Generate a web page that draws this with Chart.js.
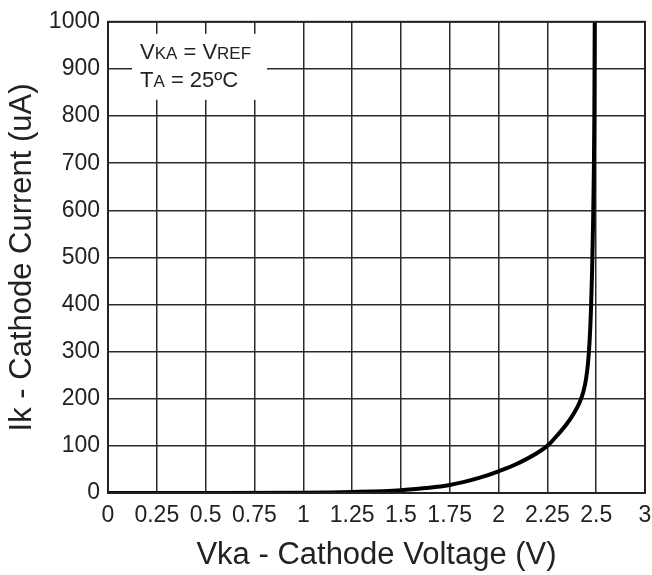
<!DOCTYPE html>
<html>
<head>
<meta charset="utf-8">
<script src="https://cdn.jsdelivr.net/npm/chart.js@4.4.0/dist/chart.umd.min.js"></script>
<style>
  html, body { margin: 0; padding: 0; background: #fff; }
  #wrap { width: 652px; height: 575px; }
</style>
</head>
<body>
<div id="wrap"><canvas id="ikChart" width="652" height="575"></canvas></div>
<script>
// x tick labels as printed on the sheet (last one reads "3")
const xTickLabels = ["0", "0.25", "0.5", "0.75", "1", "1.25", "1.5", "1.75", "2", "2.25", "2.5", "3"];
const yTicks = [0, 100, 200, 300, 400, 500, 600, 700, 800, 900, 1000];

// Vka (V) and Ik (uA)
const vka = [0, 0.5, 1.0, 1.25, 1.5, 1.75, 1.9, 2.0, 2.1, 2.25, 2.3, 2.35, 2.39, 2.415, 2.435, 2.448, 2.458, 2.466, 2.473, 2.479, 2.484, 2.488, 2.4905, 2.4925];
const ik = [0, 0, 0.5, 2, 6, 17, 32, 46, 63, 100, 122, 147, 172, 192, 216, 242, 275, 320, 385, 470, 570, 680, 800, 1000];

const FONT = "'Liberation Sans', Arial, sans-serif";

const frameAndNote = {
  id: "frameAndNote",
  afterDraw(chart) {
    const { ctx, chartArea: a } = chart;
    ctx.save();
    // note box
    ctx.fillStyle = "#fff";
    ctx.fillRect(a.left + 24, a.top + 12, 135, 66);
    ctx.fillStyle = "#222";
    ctx.textBaseline = "alphabetic";
    const put = (txt, size, x, y) => {
      ctx.font = size + "px " + FONT;
      ctx.fillText(txt, x, y);
      return x + ctx.measureText(txt).width;
    };
    let x = a.left + 32, y = a.top + 37;
    x = put("V", 22, x, y);
    x = put("KA", 17, x, y);
    x = put(" = V", 22, x, y);
    put("REF", 17, x, y);
    x = a.left + 32; y = a.top + 65;
    x = put("T", 22, x, y);
    x = put("A", 17, x, y);
    put(" = 25\u00BAC", 22, x, y);
    // frame
    ctx.strokeStyle = "#222";
    ctx.lineWidth = 2;
    ctx.strokeRect(a.left, a.top, a.right - a.left, a.bottom - a.top);
    ctx.restore();
  }
};

new Chart(document.getElementById("ikChart").getContext("2d"), {
  type: "line",
  data: {
    datasets: [
      {
        data: vka.map((v, i) => ({ x: v, y: ik[i] })),
        borderColor: "#000",
        borderWidth: 4,
        pointRadius: 0,
        cubicInterpolationMode: "monotone",
        fill: false,
      },
    ],
  },
  options: {
    responsive: false,
    animation: false,
    layout: { padding: { top: 20, right: 7, left: 0, bottom: 0 } },
    scales: {
      x: {
        type: "linear",
        min: 0,
        max: 2.75,
        afterFit(s) { s.height = 82; s.paddingRight = 0; },
        ticks: {
          stepSize: 0.25,
          autoSkip: false,
          maxRotation: 0,
          padding: 9,
          color: "#222",
          font: { family: FONT, size: 23 },
          callback: (v, i) => xTickLabels[i],
        },
        grid: { color: "#2a2a2a", lineWidth: 1.5, drawTicks: false },
        border: { display: false },
        title: {
          display: true,
          text: "Vka - Cathode Voltage (V)",
          color: "#222",
          font: { family: FONT, size: 31 },
          padding: { top: 0, bottom: 1 },
        },
      },
      y: {
        min: 0,
        max: 1000,
        afterFit(s) { s.width = 108; },
        afterBuildTicks(s) { s.ticks = yTicks.map((v) => ({ value: v })); },
        ticks: {
          padding: 8,
          color: "#222",
          font: { family: FONT, size: 23 },
          callback: (v) => String(v),
        },
        grid: { color: "#2a2a2a", lineWidth: 1.5, drawTicks: false },
        border: { display: false },
        title: {
          display: true,
          text: "Ik - Cathode Current (uA)",
          color: "#222",
          font: { family: FONT, size: 31 },
          padding: { top: 4, bottom: 0 },
        },
      },
    },
    plugins: {
      legend: { display: false },
      tooltip: { enabled: false },
    },
  },
  plugins: [frameAndNote],
});
</script>
</body>
</html>
